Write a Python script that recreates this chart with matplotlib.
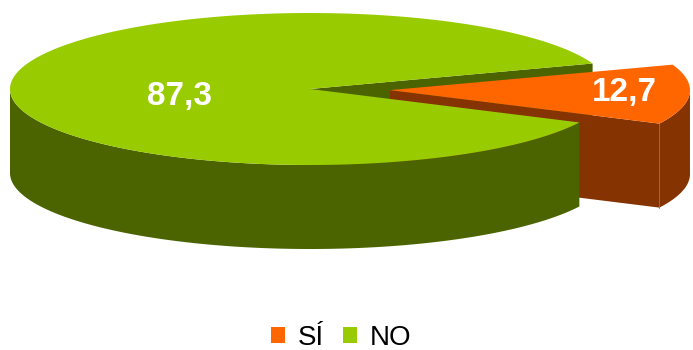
import numpy as np
import matplotlib
matplotlib.use("Agg")
import matplotlib.pyplot as plt
from matplotlib.patches import Polygon, Patch

# Survey answers (percent)
categories = ["SÍ", "NO"]
values = [12.7, 87.3]
value_labels = ["12,7", "87,3"]
top_colors = ["#FF6600", "#99CC00"]
side_colors = ["#853300", "#4B6400"]
explode = [0.267, 0.0]

plt.rcParams["font.family"] = ["Liberation Sans", "DejaVu Sans"]

W, H = 693, 350
fig = plt.figure(figsize=(W / 100, H / 100), dpi=100)
ax = fig.add_axes([0, 0, 1, 1])
ax.set_xlim(0, W)
ax.set_ylim(H, 0)
ax.axis("off")

# Pie geometry in pixel space (y grows downward)
cx, cy = 310.0, 89.0
rx, ry = 300.0, 76.0
depth = 84.0
start_angle = 19.6  # degrees, slices run clockwise


def pt(c, theta_deg):
    t = np.radians(theta_deg)
    return np.array([c[0] + rx * np.cos(t), c[1] - ry * np.sin(t)])


def arc(c, a0, a1, n=240):
    t = np.radians(np.linspace(a0, a1, n))
    return np.column_stack([c[0] + rx * np.cos(t), c[1] - ry * np.sin(t)])


def wall(c, a0, a1):
    rim = arc(c, a0, a1)
    return np.vstack([rim, (rim + down)[::-1]])


def radial_face(c, theta):
    p = pt(c, theta)
    c = np.asarray(c)
    return [c, p, p + down, c + down]


total = sum(values)
slices = []
a = start_angle
for v, e in zip(values, explode):
    span = 360.0 * v / total
    a_hi, a_lo = a, a - span
    m = np.radians((a_hi + a_lo) / 2)
    c = (cx + e * rx * np.cos(m), cy - e * ry * np.sin(m))
    slices.append((c, a_lo, a_hi))
    a = a_lo

(c_si, lo_si, hi_si), (c_no, lo_no, hi_no) = slices
down = np.array([0.0, depth])

# Large slice: cut face on the far side of the gap
ax.add_patch(Polygon(radial_face(c_no, lo_no), closed=True,
                     fc=side_colors[1], ec="none", zorder=1))

# Exploded slice: cut face, outer wall, top
ax.add_patch(Polygon(radial_face(c_si, lo_si), closed=True,
                     fc=side_colors[0], ec="none", zorder=2))
ax.add_patch(Polygon(wall(c_si, lo_si, min(hi_si, 0.0)), closed=True,
                     fc=side_colors[0], ec="none", zorder=2))
edge = pt(c_si, lo_si)
ax.plot([edge[0], edge[0]], [edge[1], edge[1] + depth],
        color="#B06040", lw=0.6, zorder=2.5)
ax.add_patch(Polygon(np.vstack([[c_si], arc(c_si, lo_si, hi_si)]), closed=True,
                     fc=top_colors[0], ec="none", zorder=3))

# Large slice: front wall and top
ax.add_patch(Polygon(wall(c_no, 180.0, hi_no + 360.0), closed=True,
                     fc=side_colors[1], ec="none", zorder=4))
ax.add_patch(Polygon(np.vstack([[c_no], arc(c_no, lo_no + 360.0, hi_no + 360.0)]),
                     closed=True, fc=top_colors[1], ec="none", zorder=5))

# Value labels
label_pos = [(624, 101), (179, 105)]
for (x, y), txt in zip(label_pos, value_labels):
    ax.text(x, y, txt, color="white", fontsize=24, fontweight="bold",
            ha="center", va="baseline", zorder=6)

handles = [Patch(fc=col, ec="none") for col in top_colors]
fig.legend(handles, categories, loc="center", bbox_to_anchor=(341 / W, 1 - 338 / H),
           ncol=2, frameon=False, fontsize=20, handlelength=0.5, handleheight=0.5,
           handletextpad=0.45, columnspacing=0.7, borderpad=0, borderaxespad=0)

fig.savefig("out.png", dpi=100)
